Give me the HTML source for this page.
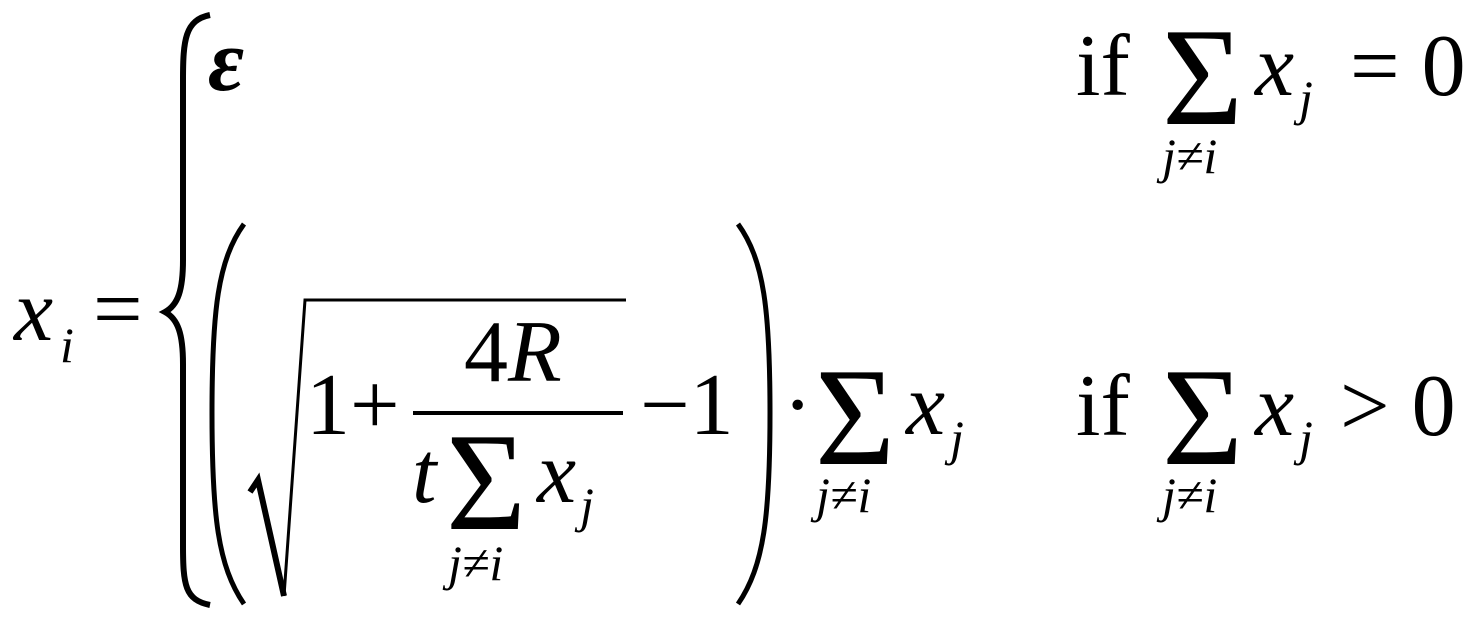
<!DOCTYPE html>
<html><head><meta charset="utf-8"><style>
html,body{margin:0;padding:0;background:#fff;width:1469px;height:623px;overflow:hidden}
svg text{font-family:"Liberation Serif",serif;fill:#000}
.i{font-style:italic}
</style></head><body>
<svg width="1469" height="623" viewBox="0 0 1469 623" xmlns="http://www.w3.org/2000/svg">
<text x="14" y="340" font-size="88" class="i">x</text>
<text x="60" y="362" font-size="50" class="i">i</text>
<text x="93" y="338" font-size="88">=</text>
<path d="M210,15 C185,20 183,40 183,80 L183,260 C183,290 178,305 165,312 C178,319 183,334 183,364 L183,545 C183,585 185,600 210,605" fill="none" stroke="#000" stroke-width="6"/>
<text x="208" y="90" font-size="88" class="i" font-weight="bold">ε</text>
<text x="1076" y="95" font-size="88">if</text>
<text x="1162" y="124" font-size="140" textLength="81" lengthAdjust="spacingAndGlyphs">Σ</text>
<text x="1162" y="173" font-size="50" class="i">j≠i</text>
<text x="1255" y="95" font-size="88" class="i">x</text>
<text x="1299" y="115" font-size="50" class="i">j</text>
<text x="1350" y="95" font-size="88">= 0</text>
<path d="M244,224 C218,260 212,310 212,413 C212,516 218,566 244,604" fill="none" stroke="#000" stroke-width="5"/>
<path d="M738,224 C764,260 770,310 770,413 C770,516 764,566 738,604" fill="none" stroke="#000" stroke-width="5"/>
<path d="M250,492 L258,480 L284,596" fill="none" stroke="#000" stroke-width="6"/>
<path d="M284,596 L305,300 L626,300" fill="none" stroke="#000" stroke-width="3"/>
<text x="306" y="434" font-size="88">1+</text>
<text x="464" y="381" font-size="88">4<tspan class="i">R</tspan></text>
<rect x="413" y="411" width="210" height="4"/>
<text x="412" y="502" font-size="88" class="i">t</text>
<text x="446" y="529" font-size="140" textLength="80" lengthAdjust="spacingAndGlyphs">Σ</text>
<text x="537" y="502" font-size="88" class="i">x</text>
<text x="580" y="522" font-size="50" class="i">j</text>
<text x="448" y="580" font-size="50" class="i">j≠i</text>
<text x="640" y="434" font-size="88">−1</text>
<text x="783" y="434" font-size="88">·</text>
<text x="815" y="464" font-size="140" textLength="80" lengthAdjust="spacingAndGlyphs">Σ</text>
<text x="816" y="512" font-size="50" class="i">j≠i</text>
<text x="906" y="434" font-size="88" class="i">x</text>
<text x="950" y="455" font-size="50" class="i">j</text>
<text x="1076" y="435" font-size="88">if</text>
<text x="1162" y="464" font-size="140" textLength="81" lengthAdjust="spacingAndGlyphs">Σ</text>
<text x="1162" y="512" font-size="50" class="i">j≠i</text>
<text x="1255" y="435" font-size="88" class="i">x</text>
<text x="1299" y="455" font-size="50" class="i">j</text>
<text x="1340" y="435" font-size="88">&gt; 0</text>
</svg>
</body></html>
